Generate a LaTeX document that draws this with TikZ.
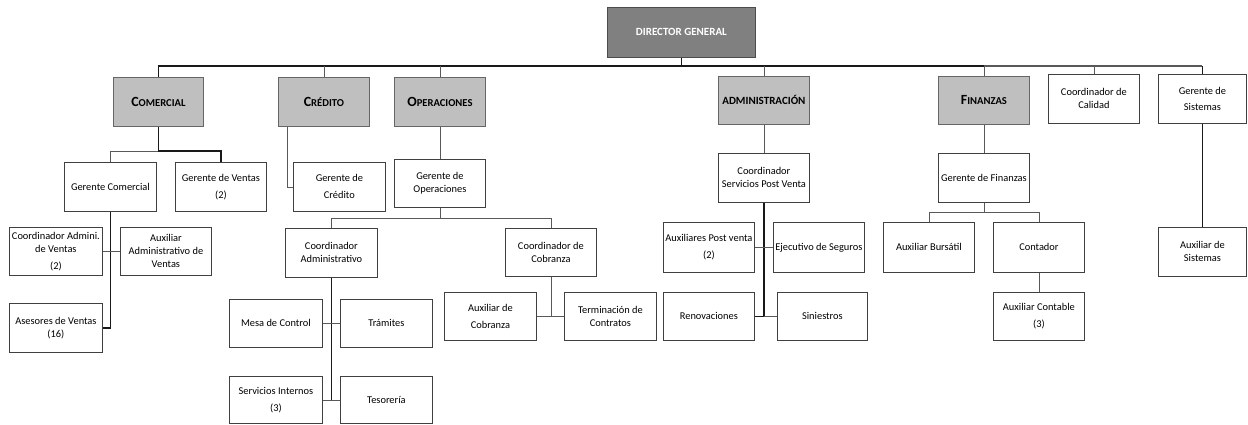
\documentclass[tikz,border=0pt]{standalone}
\usepackage{fontspec}
\setmainfont{Carlito}
\newcommand\fsc[2]{{\fontsize{14}{15}\selectfont #1}{\fontsize{10.6}{13}\selectfont #2}}
\begin{document}
\begin{tikzpicture}[x=1pt,y=-1pt,
  box/.style={draw=black!75, line width=0.8pt, fill=white, align=center, inner sep=1pt,
    font=\fontsize{10.4}{13}\selectfont},
  hdr/.style={box, fill=black!25, draw=black!60, font=\bfseries},
  dirbox/.style={box, fill=black!50, draw=black!70, text=white, font=\bfseries\fontsize{11}{12}\selectfont},
  thin/.style={draw=black!65, line width=0.8pt},
  heavy/.style={draw=black!90, line width=1.6pt}]
\useasboundingbox (0,0) rectangle (1248,424);
% box helper: style, x1, y1, x2, y2, name, text
\newcommand\bx[7][box]{\node[#1, anchor=north west, minimum width={#4-#2}, minimum height={#5-#3}] (#6) at (#2,#3) {#7};}
\bx[dirbox]{607}{7}{755}{57}{dir}{DIRECTOR GENERAL}
\bx[hdr]{113}{77}{203}{126}{com}{\fsc{C}{OMERCIAL}}
\bx[hdr]{278}{77}{369}{126}{cre}{\fsc{C}{RÉDITO}}
\bx[hdr]{394}{77}{485}{126}{ope}{\fsc{O}{PERACIONES}}
\bx[hdr]{718}{76}{809}{124}{adm}{\fontsize{11}{12}\selectfont ADMINISTRACIÓN}
\bx[hdr]{938}{76}{1029}{124}{fin}{\fsc{F}{INANZAS}}
\bx{1048}{74}{1139}{123}{cal}{Coordinador de\\Calidad}
\bx{1158}{74}{1246}{123}{sis}{Gerente de\\[3pt]Sistemas}
\bx{64}{162}{156}{211}{gcom}{Gerente Comercial}
\bx{175}{162}{266}{211}{gven}{Gerente de Ventas\\[4pt](2)}
\bx{293}{162}{385}{211}{gcre}{Gerente de\\[4pt]Crédito}
\bx{394}{159}{485}{207}{gope}{Gerente de\\Operaciones}
\bx{718}{153}{809}{202}{csp}{Coordinador\\Servicios Post Venta}
\bx{938}{153}{1029}{202}{gfin}{Gerente de Finanzas}
\bx{1158}{227}{1246}{276}{auxsis}{Auxiliar de\\Sistemas}
\bx{9}{227}{102}{275}{cadv}{Coordinador Admini.\\de Ventas\\[4pt](2)}
\bx{120}{227}{211}{275}{aadv}{Auxiliar\\Administrativo de\\Ventas}
\bx{9}{303}{102}{352}{ases}{Asesores de Ventas\\(16)}
\bx{285}{228}{377}{277}{cadm}{Coordinador\\Administrativo}
\bx{505}{228}{596}{276}{ccob}{Coordinador de\\Cobranza}
\bx{229}{299}{322}{347}{mesa}{Mesa de Control}
\bx{340}{299}{432}{347}{tram}{Trámites}
\bx{229}{376}{322}{423}{serv}{Servicios Internos\\[4pt](3)}
\bx{340}{376}{432}{423}{teso}{Tesorería}
\bx{444}{292}{536}{340}{acob}{Auxiliar de\\[4pt]Cobranza}
\bx{564}{292}{656}{340}{term}{Terminación de\\Contratos}
\bx{663}{222}{754}{272}{apv}{Auxiliares Post venta\\[4pt](2)}
\bx{773}{222}{864}{272}{ejec}{Ejecutivo de Seguros}
\bx{663}{292}{754}{340}{reno}{Renovaciones}
\bx{777}{292}{867}{340}{sini}{Siniestros}
\bx{883}{222}{974}{272}{abur}{Auxiliar Bursátil}
\bx{993}{222}{1084}{272}{cont}{Contador}
\bx{993}{292}{1084}{340}{acon}{Auxiliar Contable\\[4pt](3)}
% top bar
\coordinate (bar) at (0,66);
\draw[heavy] (dir.south) -- (dir.south |- bar);
\draw[heavy] (com.north) -- (com.north |- bar) -- (fin.north |- bar);
\draw[thin, line width=1.1pt] (fin.north |- bar) -- (sis.north |- bar);
\draw[heavy, line width=1.2pt] (sis.north |- bar) -- (sis.north);
\foreach \n in {cre,ope,adm,fin,cal} \draw[thin] (\n.north) -- (\n.north |- bar);
% Comercial
\coordinate (cb) at (0,151);
\draw[heavy] (com.south) -- (com.south |- cb) -- (gven.north |- cb) -- (gven.north);
\draw[thin] (com.south |- cb) -- (gcom.north |- cb) -- (gcom.north);
\draw[heavy] (gcom.south) -- (gcom.south |- ases.east) -- (ases.east);
\draw[thin] (cadv.east) -- (aadv.west);
% Credito
\draw[thin] ([xshift=9]cre.south west) |- (gcre.west);
% Operaciones
\coordinate (ob) at (0,218);
\draw[thin] (ope.south) -- (gope.north);
\draw[thin] (gope.south) -- (gope.south |- ob);
\draw[thin] (cadm.north) -- (cadm.north |- ob) -- (ccob.north |- ob) -- (ccob.north);
\draw[heavy, line width=1.2pt] (cadm.south) -- (cadm.south |- serv.east);
\draw[thin] (mesa.east) -- (tram.west);
\draw[thin] (serv.east) -- (teso.west);
\draw[thin] (ccob.south) -- (ccob.south |- acob.east);
\draw[thin] (acob.east) -- (term.west);
% Administracion
\draw[thin] (adm.south) -- (csp.north);
\draw[heavy] (csp.south) -- (csp.south |- reno.east);
\draw[thin] (apv.east) -- (ejec.west);
\draw[thin] (reno.east) -- (sini.west);
\draw[heavy, line width=1.2pt] (reno.east) -- (csp.south |- reno.east);
% Finanzas
\coordinate (fb) at (0,212);
\draw[thin] (fin.south) -- (gfin.north);
\draw[thin] (gfin.south) -- (gfin.south |- fb);
\draw[thin] (abur.north) -- (abur.north |- fb) -- (cont.north |- fb) -- (cont.north);
\draw[thin] (cont.south) -- (acon.north);
% Sistemas
\draw[heavy] (sis.south) -- (auxsis.north);
\end{tikzpicture}
\end{document}
